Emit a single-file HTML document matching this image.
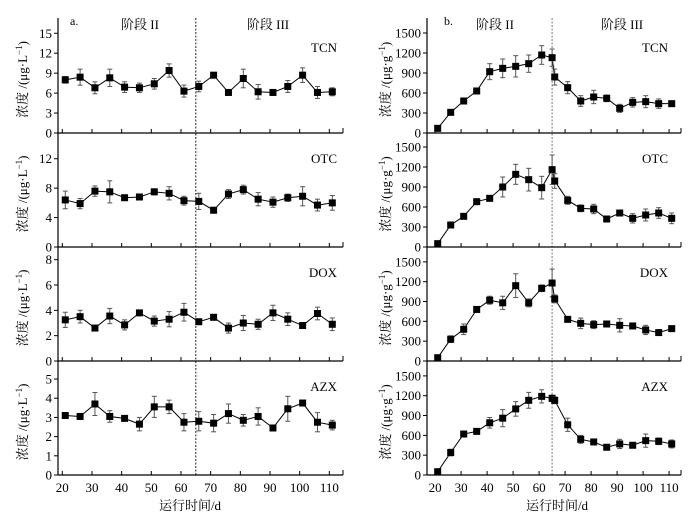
<!DOCTYPE html>
<html><head><meta charset="utf-8">
<style>
html,body{margin:0;padding:0;background:#fff;}
svg{display:block;font-family:"Liberation Serif","Noto Serif CJK SC",serif;}
</style></head>
<body>
<svg id="chart" width="696" height="519" viewBox="0 0 696 519" xmlns="http://www.w3.org/2000/svg"></svg>
<script>
// ---- data ----
const daysLeft = [21,26,31,36,41,46,51,56,61,66,71,76,81,86,91,96,101,106,111];
const daysRight = [21,26,31,36,41,46,51,56,61,65,66,71,76,81,86,91,96,101,106,111];
const compounds = ["TCN","OTC","DOX","AZX"];
const xTicks = [20,30,40,50,60,70,80,90,100,110];
const phaseDay = 65;

const waterTCN = [8.0,8.4,6.8,8.3,6.9,6.8,7.4,9.4,6.3,7.0,8.7,6.1,8.2,6.2,6.1,7.0,8.7,6.1,6.2];
const waterTCNErr = [0.5,1.2,0.9,1.3,0.8,0.7,0.8,1.0,0.9,0.8,0.3,0.2,1.4,1.1,0.2,0.9,1.1,0.9,0.6];
const waterOTC = [6.4,5.9,7.6,7.5,6.7,6.8,7.5,7.3,6.3,6.2,5.0,7.2,7.8,6.5,6.1,6.7,6.9,5.7,6.0];
const waterOTCErr = [1.2,0.7,0.7,1.5,0.3,0.2,0.4,0.9,0.6,1.1,0.2,0.6,0.6,0.9,0.7,0.5,1.3,0.8,1.0];
const waterDOX = [3.25,3.5,2.6,3.55,2.85,3.8,3.15,3.3,3.85,3.1,3.45,2.6,3.0,2.9,3.8,3.3,2.8,3.75,2.9];
const waterDOXErr = [0.6,0.5,0.1,0.6,0.4,0.1,0.4,0.6,0.7,0.1,0.2,0.4,0.6,0.4,0.6,0.5,0.1,0.5,0.5];
const waterAZX = [3.1,3.05,3.7,3.05,2.95,2.65,3.55,3.55,2.75,2.8,2.7,3.2,2.85,3.05,2.45,3.45,3.75,2.75,2.6];
const waterAZXErr = [0.1,0.15,0.6,0.3,0.1,0.35,0.55,0.35,0.45,0.5,0.45,0.5,0.3,0.45,0.05,0.65,0.1,0.5,0.25];

const sludgeTCN = [70,310,480,630,920,970,1000,1040,1170,1130,840,680,480,540,520,370,460,470,440,440];
const sludgeTCNErr = [20,20,30,30,120,140,160,130,140,130,120,90,80,100,50,60,70,90,70,40];
const sludgeOTC = [50,330,460,680,730,900,1090,1010,890,1160,990,700,580,570,420,510,430,480,510,430];
const sludgeOTCErr = [30,30,30,30,30,150,150,170,170,220,110,60,50,70,40,30,70,90,80,80];
const sludgeDOX = [50,330,480,780,920,880,1140,880,1100,1180,940,630,570,550,560,540,530,470,430,490];
const sludgeDOXErr = [20,50,80,30,60,100,180,60,50,210,60,20,80,60,30,100,40,70,30,20];
const sludgeAZX = [50,340,620,660,790,860,1000,1130,1190,1160,1130,760,540,500,420,470,450,520,510,470];
const sludgeAZXErr = [20,50,30,20,80,130,110,120,100,50,50,100,60,20,20,70,40,100,50,60];

const leftYMax = [17.3,15.5,9.0,5.94];
const leftYTicks = [[0,3,6,9,12,15],[0,4,8,12],[0,2,4,6,8],[0,1,2,3,4,5]];
const rightYMax = [1725,1710,1725,1725];
const rightYTicks = [0,300,600,900,1200,1500];

// ---- drawing ----
const NS="http://www.w3.org/2000/svg";
const svg=document.getElementById('chart');
function el(tag,attrs,parent){const e=document.createElementNS(NS,tag);for(const k in attrs)e.setAttribute(k,attrs[k]);(parent||svg).appendChild(e);return e;}

const panelTop=[18,133,247,361];
const panelBot=[133,247,361,475];
const sides=[
 {name:'water',x0:58,x1:343,xf:d=>62.3+(d-20)*2.967,days:daysLeft,
  series:[waterTCN,waterOTC,waterDOX,waterAZX],errs:[waterTCNErr,waterOTCErr,waterDOXErr,waterAZXErr],
  ymax:leftYMax,yt:i=>leftYTicks[i],ylab:'浓度 /(μg·L',ylx:27,lab:'a.',labx:70,
  phaseX:[140,268],cmpX:337,titleX:190},
 {name:'sludge',x0:427,x1:681,xf:d=>435.1+(d-20)*2.6,days:daysRight,
  series:[sludgeTCN,sludgeOTC,sludgeDOX,sludgeAZX],errs:[sludgeTCNErr,sludgeOTCErr,sludgeDOXErr,sludgeAZXErr],
  ymax:rightYMax,yt:i=>rightYTicks,ylab:'浓度 /(μg·g',ylx:390,lab:'b.',labx:444,
  phaseX:[495,622],cmpX:668,titleX:557}
];

sides.forEach((s,si)=>{
  const g=el('g',{});
  
  
  // left axis line full
  el('line',{x1:s.x0,y1:18,x2:s.x0,y2:475,stroke:'#000','stroke-width':1.2},g);
  // phase divider
  const px=s.xf(phaseDay);
  const dv=el('line',{x1:px,y1:18,x2:px,y2:475,stroke:si?'#777':'#222','stroke-width':1,'stroke-dasharray':'2,1.5'},g);
  
  
  // labels
  const la=el('text',{x:s.labx,y:25,'font-size':12},g);la.textContent=s.lab;
  
  ['阶段 II','阶段 III'].forEach((t,k)=>{
    const tt=el('text',{x:s.phaseX[k],y:29,'font-size':13,'text-anchor':'middle'},g);tt.textContent=t;
    
  });
  for(let i=0;i<4;i++){
    const top=panelTop[i],bot=panelBot[i];
    const yf=v=>bot-(v/s.ymax[i])*(bot-top);
    const pg=el('g',{},g);
    
    
    // bottom axis
    el('line',{x1:s.x0,y1:bot,x2:s.x1,y2:bot,stroke:'#000','stroke-width':1.2},pg);
    el('line',{x1:s.x1,y1:bot,x2:s.x1,y2:bot-5,stroke:'#000','stroke-width':1},pg);
    xTicks.forEach(t=>{
      el('line',{x1:s.xf(t),y1:bot,x2:s.xf(t),y2:bot-4,stroke:'#000','stroke-width':1},pg);
      if(i===3){
        const tl=el('text',{x:s.xf(t),y:492,'font-size':13,'text-anchor':'middle'},pg);tl.textContent=t;
        
      }
    });
    s.yt(i).forEach(t=>{
      const y=yf(t);
      el('line',{x1:s.x0,y1:y,x2:s.x0-4,y2:y,stroke:'#000','stroke-width':1},pg);
      const tl=el('text',{x:s.x0-6,y:y+4.5,'font-size':13,'text-anchor':'end'},pg);tl.textContent=t;
      
    });
    // y title
    const cy=(top+bot)/2+4;
    const yt=el('text',{x:s.ylx,y:cy,'font-size':13,'text-anchor':'middle',transform:`rotate(-90 ${s.ylx} ${cy})`},pg);
    yt.innerHTML=s.ylab+'<tspan dy="-5" font-size="9">−1</tspan><tspan dy="5">)</tspan>';
    
    // compound label
    const cl=el('text',{x:s.cmpX,y:top+(i===0?34:30),'font-size':13,'text-anchor':'end'},pg);cl.textContent=compounds[i];
    
    // series
    const vals=s.series[i],errs=s.errs[i];
    const pts=vals.map((v,k)=>[s.xf(s.days[k]),yf(v)]);
    const line=el('polyline',{points:pts.map(p=>p.join(',')).join(' '),fill:'none',stroke:'#000','stroke-width':1},pg);
    
    vals.forEach((v,k)=>{
      const x=s.xf(s.days[k]);
      const y1=yf(v+errs[k]),y2=yf(Math.max(0,v-errs[k]));
      el('line',{x1:x,y1:y1,x2:x,y2:y2,stroke:'#555','stroke-width':1},pg);
      el('line',{x1:x-2.5,y1:y1,x2:x+2.5,y2:y1,stroke:'#555','stroke-width':1},pg);
      el('line',{x1:x-2.5,y1:y2,x2:x+2.5,y2:y2,stroke:'#555','stroke-width':1},pg);
      const m=el('rect',{x:x-3.5,y:yf(v)-3.5,width:7,height:7,fill:'#000'},pg);
      
      
    });
  }
  const xt=el('text',{x:s.titleX,y:510,'font-size':13,'text-anchor':'middle'},g);xt.textContent='运行时间/d';
  
});
</script>
</body></html>
